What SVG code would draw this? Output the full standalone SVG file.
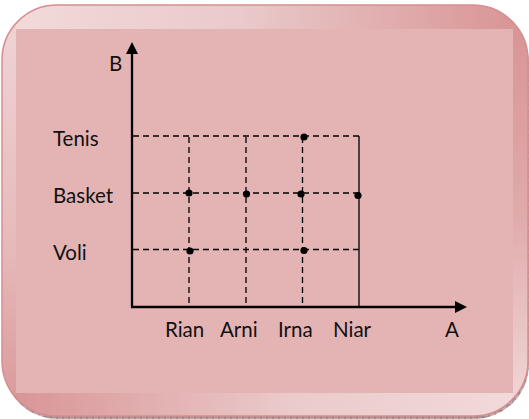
<svg xmlns="http://www.w3.org/2000/svg" width="529" height="419" viewBox="0 0 529 419">
  <style>
    .lbl { font-family: "Lato", "Liberation Sans", sans-serif; font-size: 20.5px; fill: #111; }
    .axis { stroke: #000; stroke-width: 2.3; fill: none; }
    .grid { stroke: #000; stroke-width: 1.3; stroke-dasharray: 6 4; fill: none; }
    .solid { stroke: #000; stroke-width: 1.3; fill: none; }
    .dot { fill: #000; }
  </style>
  <defs>
    <linearGradient id="gTop" x1="0" y1="0" x2="1" y2="0">
      <stop offset="0" stop-color="#F2DADB"/>
      <stop offset="0.45" stop-color="#EACACB"/>
      <stop offset="1" stop-color="#D89293"/>
    </linearGradient>
    <linearGradient id="gBottom" x1="0" y1="0" x2="1" y2="0">
      <stop offset="0" stop-color="#D89293"/>
      <stop offset="0.55" stop-color="#EBCACB"/>
      <stop offset="1" stop-color="#F2DADB"/>
    </linearGradient>
    <linearGradient id="gLeft" x1="0" y1="0" x2="0" y2="1">
      <stop offset="0" stop-color="#F0D6D7"/>
      <stop offset="0.6" stop-color="#E6B9BA"/>
      <stop offset="1" stop-color="#D99697"/>
    </linearGradient>
    <linearGradient id="gRight" x1="0" y1="0" x2="0" y2="1">
      <stop offset="0" stop-color="#D89293"/>
      <stop offset="0.5" stop-color="#E0A9AA"/>
      <stop offset="1" stop-color="#F2DADB"/>
    </linearGradient>
    <pattern id="hatch" width="6" height="6" patternUnits="userSpaceOnUse">
      <rect width="6" height="6" fill="#C4ACAC"/>
      <path d="M0 3H6M3 0V6" stroke="#7A6464" stroke-width="0.7"/>
    </pattern>
    <clipPath id="frameClip">
      <rect x="2" y="5" width="526" height="411" rx="55" ry="55"/>
    </clipPath>
  </defs>

  <g id="frame">
    <rect x="3" y="8" width="526" height="411" rx="55" ry="55" fill="url(#hatch)"/>
    <rect x="2" y="5" width="526" height="411" rx="55" ry="55" fill="#E4B4B5"/>
    <g clip-path="url(#frameClip)">
      <polygon points="0,0 529,0 513,29 16,29" fill="url(#gTop)"/>
      <polygon points="0,0 16,29 16,393 0,419" fill="url(#gLeft)"/>
      <polygon points="529,0 513,29 513,393 529,419" fill="url(#gRight)"/>
      <polygon points="0,419 16,393 513,393 529,419" fill="url(#gBottom)"/>
      <rect x="16" y="29" width="497" height="364" fill="#E4B4B5"/>
    </g>
    <rect x="2" y="5" width="526" height="411" rx="55" ry="55" fill="none" stroke="#D68E90" stroke-width="1.5"/>
  </g>

  <g id="connectors">
    <g id="grid-lines">
      <line class="grid" x1="133" y1="136" x2="359" y2="136"/>
      <line class="grid" x1="133" y1="193" x2="359" y2="193"/>
      <line class="grid" x1="133" y1="249.5" x2="359" y2="249.5"/>
      <line class="grid" x1="189" y1="137" x2="189" y2="306"/>
      <line class="grid" x1="246" y1="137" x2="246" y2="306"/>
      <line class="grid" x1="302.5" y1="137" x2="302.5" y2="306"/>
      <line class="solid" x1="359" y1="136" x2="359" y2="306"/>
    </g>
    <g id="axes">
      <line class="axis" x1="132" y1="307" x2="132" y2="52"/>
      <polygon points="132,42 126,54 138,54" fill="#000"/>
      <line class="axis" x1="131" y1="307" x2="457" y2="307"/>
      <polygon points="467,307 455,301 455,313" fill="#000"/>
    </g>
  </g>

  <g id="points">
    <circle class="dot" cx="304" cy="137" r="3.6"/>
    <circle class="dot" cx="189" cy="193" r="3.6"/>
    <circle class="dot" cx="246.5" cy="194" r="3.6"/>
    <circle class="dot" cx="301" cy="194" r="3.6"/>
    <circle class="dot" cx="358" cy="195.5" r="3.6"/>
    <circle class="dot" cx="190" cy="251" r="3.6"/>
    <circle class="dot" cx="304" cy="250.5" r="3.6"/>
  </g>

  <g id="labels">
    <text class="lbl" x="109" y="71">B</text>
    <text class="lbl" x="53" y="146">Tenis</text>
    <text class="lbl" x="53" y="203">Basket</text>
    <text class="lbl" x="53" y="260">Voli</text>
    <text class="lbl" x="165" y="337">Rian</text>
    <text class="lbl" x="220" y="337">Arni</text>
    <text class="lbl" x="278" y="337">Irna</text>
    <text class="lbl" x="333" y="337">Niar</text>
    <text class="lbl" x="445" y="337">A</text>
  </g>
</svg>
